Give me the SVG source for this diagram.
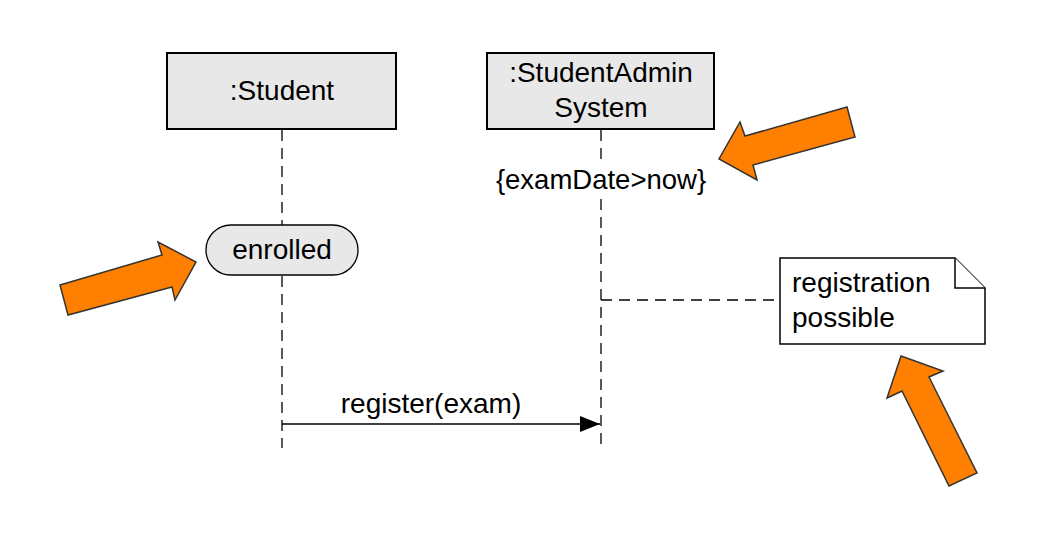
<svg xmlns="http://www.w3.org/2000/svg" width="1042" height="545" viewBox="0 0 1042 545">
  <style>
    text { font-family: "Liberation Sans", Arial, sans-serif; font-size: 28px; fill: #000; }
    .mid { text-anchor: middle; }
    .small { font-size: 27.5px; }
    .head { fill: #e8e8e8; stroke: #000; stroke-width: 2; }
    .life { stroke: #000; stroke-width: 1.3; stroke-dasharray: 11 7; fill: none; }
    .state { fill: #e8e8e8; stroke: #000; stroke-width: 1.3; }
    .note { fill: #fff; stroke: #000; stroke-width: 1.5; }
    .hint { fill: #ff8000; stroke: #333; stroke-width: 1.5; stroke-linejoin: miter; }
    .msg { stroke: #000; stroke-width: 1.3; fill: none; }
  </style>
  <defs>
    <marker id="filled" viewBox="0 0 20 16" refX="20" refY="8" markerWidth="20" markerHeight="16" markerUnits="userSpaceOnUse" orient="auto">
      <path d="M0,0 L20,8 L0,16 Z" fill="#000"/>
    </marker>
  </defs>

  <rect width="1042" height="545" fill="#fff"/>

  <!-- lifelines and connectors -->
  <g id="connectors">
    <path class="life" d="M282,130 V225 M282,276 V448"/>
    <path class="life" d="M601,130 V163 M601,199 V448"/>
    <path class="life" d="M601,300 H780"/>
    <line class="msg" x1="282" y1="424" x2="600" y2="424" marker-end="url(#filled)"/>
  </g>

  <g id="student">
    <rect class="head" x="167" y="53" width="229" height="76"/>
    <text class="mid" x="282" y="100">:Student</text>
  </g>

  <g id="admin">
    <rect class="head" x="487" y="53" width="227" height="76"/>
    <text class="mid" x="601" y="82">:StudentAdmin</text>
    <text class="mid" x="601" y="117">System</text>
  </g>

  <g id="constraint">
    <text class="mid small" x="601" y="189">{examDate&gt;now}</text>
  </g>

  <g id="enrolled">
    <rect class="state" x="206" y="225" width="152" height="50" rx="25" ry="25"/>
    <text class="mid" x="282" y="259">enrolled</text>
  </g>

  <g id="note">
    <path class="note" d="M780,258 H955 L985,288 V344 H780 Z"/>
    <path class="note" d="M955,258 V288 H985" fill="none"/>
    <text x="792" y="292">registration</text>
    <text x="792" y="327">possible</text>
  </g>

  <g id="message">
    <text class="mid" x="431" y="413">register(exam)</text>
  </g>

  <!-- pointer arrows -->
  <g id="pointers">
    <polygon class="hint" points="60,285 162,255 158,242 196,262 175,300 172,287 68,315"/>
    <polygon class="hint" points="847,107 745,136 740,122 719,159 757,180 753,165 855,137"/>
    <polygon class="hint" points="901,356 943,371 929,377 977,473 949,486 902,391 887,398"/>
  </g>
</svg>
